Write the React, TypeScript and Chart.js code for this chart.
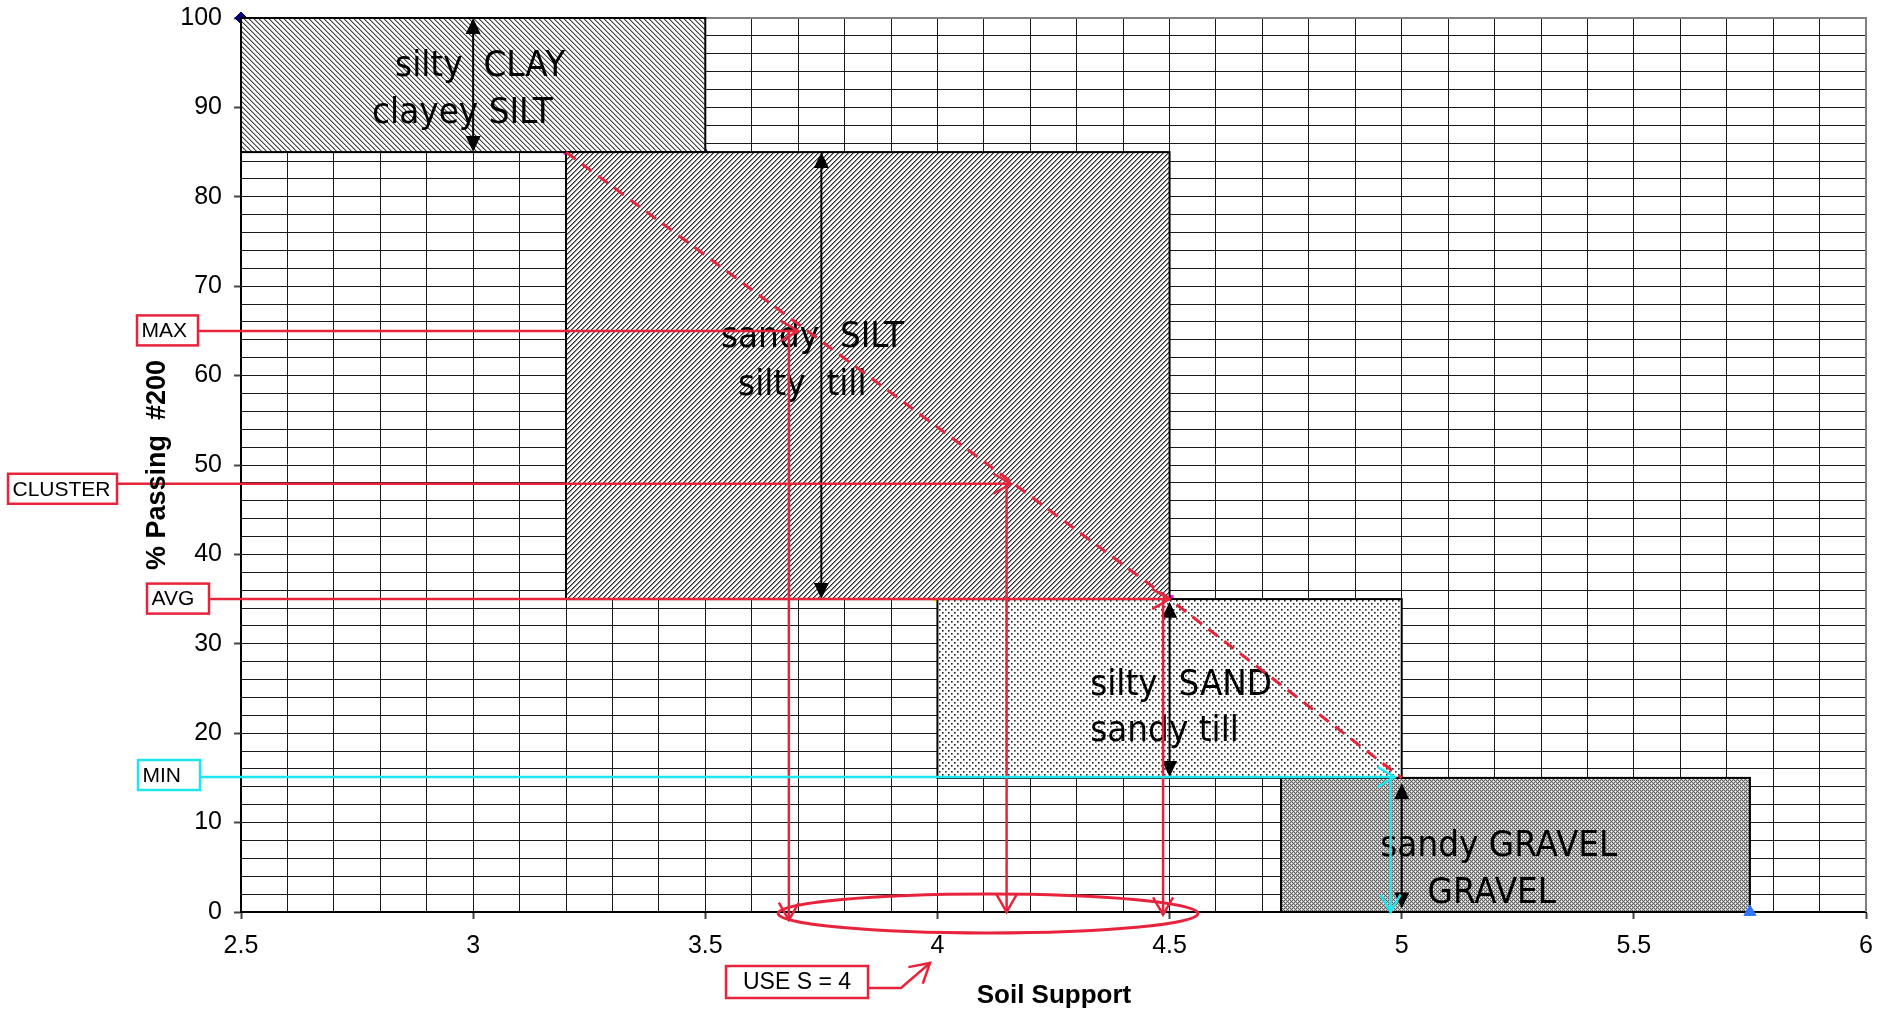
import { useEffect, useRef } from "react";
import { Chart, registerables } from "chart.js";

Chart.register(...registerables);

// ---------------- data ----------------
const xMajorTicks = [2.5, 3, 3.5, 4, 4.5, 5, 5.5, 6];
const yMajorTicks = [0, 10, 20, 30, 40, 50, 60, 70, 80, 90, 100];

const zoneLine1 = ["silty  CLAY", "sandy  SILT", "silty  SAND", "sandy GRAVEL"];
const zoneLine2 = ["clayey SILT", "silty  till", "sandy till", "GRAVEL"];
const zoneXMin = [2.5, 3.2, 4.0, 4.74];
const zoneXMax = [3.5, 4.5, 5.0, 5.75];
const zoneYMin = [85, 35, 15, 0];
const zoneYMax = [100, 85, 35, 15];

const rangeArrowX = [3.0, 3.75, 4.5, 5.0];
const rangeArrowTop = [100, 85, 34.7, 14.4];
const rangeArrowBottom = [85, 35, 15.1, 0.4];

const trendX = [3.2, 4.5, 5.0];
const trendY = [85, 35, 15];

const leaderNames = ["MAX", "CLUSTER", "AVG", "MIN"];
const leaderY = [65, 47.9, 35, 15.1];
const leaderTipX = [3.7, 4.158, 4.5, 4.985];
const leaderDropX = [3.68, 4.149, 4.486, 4.976];
const leaderDropEndY = [-0.9, 0, -0.3, 0];

// ellipse around the candidate soil-support values: centre x, centre y, half width, half height
const clusterEllipse = [4.109, -0.17, 0.452, 2.18];
const recommendation = "USE S = 4";

// corner markers (partly covered by the zones)
const markerX = [2.5, 3.5, 3.2, 4.5, 4.0, 5.0];
const markerY = [100, 85, 85, 35, 35, 15];
// end marker drawn on top
const endMarkerX = [5.75];
const endMarkerY = [0];

const xTitle = "Soil Support";
const yTitle = "% Passing  #200";

// ---------------- styles / layout ----------------
const markerStyle = ["rectRot", "triangle", "rect", "rect", "triangle", "triangle"];
const markerColor = ["#000080", "#000080", "#ff00ff", "#ff00ff", "#ffff00", "#ffff00"];
const markerRadius = [6, 4, 3, 5, 4, 4];

const RED = "#e8243c";
const CYAN = "#1ee6ee";
const AXIS_FONT = '"Liberation Sans", Arial, sans-serif';
const ZONE_FONT = '36px "DejaVu Sans", sans-serif';

const zoneText = {
  align: ["center", "center", "left", "center"] as CanvasTextAlign[],
  x1: [3.015, 3.731, 4.329, 5.209],
  x2: [2.977, 3.709, 4.329, 5.194],
  base1: [93.5, 63.2, 24.3, 6.26],
  base2: [88.25, 57.8, 19.1, 1.04],
};

const leaderBox = {
  left: [137, 8, 147, 138],
  right: [198, 117, 209, 200],
  offset: [-0.5, 5, -0.5, -2],
  color: [RED, RED, RED, CYAN],
};

const isMajor = (list: number[], v: number) => list.some((t) => Math.abs(t - v) < 1e-6);

function makePattern(ctx: CanvasRenderingContext2D, size: number, shade: (x: number, y: number) => number) {
  const c = document.createElement("canvas");
  c.width = size;
  c.height = size;
  const g = c.getContext("2d")!;
  const img = g.createImageData(size, size);
  for (let y = 0; y < size; y++) {
    for (let x = 0; x < size; x++) {
      const v = shade(x, y);
      const i = (y * size + x) * 4;
      img.data[i] = v;
      img.data[i + 1] = v;
      img.data[i + 2] = v;
      img.data[i + 3] = 255;
    }
  }
  g.putImageData(img, 0, 0);
  return ctx.createPattern(c, "repeat")!;
}

function filledHead(ctx: CanvasRenderingContext2D, x1: number, y1: number, x2: number, y2: number, len: number, half: number) {
  const a = Math.atan2(y2 - y1, x2 - x1);
  const bx = x2 - len * Math.cos(a);
  const by = y2 - len * Math.sin(a);
  ctx.beginPath();
  ctx.moveTo(x2, y2);
  ctx.lineTo(bx + half * Math.sin(a), by - half * Math.cos(a));
  ctx.lineTo(bx - half * Math.sin(a), by + half * Math.cos(a));
  ctx.closePath();
  ctx.fill();
}

function openHead(ctx: CanvasRenderingContext2D, x1: number, y1: number, x2: number, y2: number, len: number, ang: number) {
  const a = Math.atan2(y2 - y1, x2 - x1);
  ctx.beginPath();
  ctx.moveTo(x2 - len * Math.cos(a - ang), y2 - len * Math.sin(a - ang));
  ctx.lineTo(x2, y2);
  ctx.lineTo(x2 - len * Math.cos(a + ang), y2 - len * Math.sin(a + ang));
  ctx.stroke();
}

function drawZones(chart: any) {
  const ctx: CanvasRenderingContext2D = chart.ctx;
  const xs = chart.scales.x;
  const ys = chart.scales.y;
  const X = (v: number) => xs.getPixelForValue(v);
  const Y = (v: number) => ys.getPixelForValue(v);
  const patterns = [
    makePattern(ctx, 5, (x, y) => [70, 170, 255, 255, 235][(((x - y) % 5) + 5) % 5]),
    makePattern(ctx, 5, (x, y) => [45, 140, 240, 255, 255][(x + y) % 5]),
    makePattern(ctx, 6, (x, y) => {
      const dx = x % 3, dy = y % 3;
      const onDot = (x < 3 && y < 3) || (x >= 3 && y >= 3);
      if (!onDot) return 255;
      if (dx === 0 && dy === 0) return 34;
      if (dx === 1 && dy === 1) return 170;
      if (dx + dy === 1) return 119;
      return 255;
    }),
    makePattern(ctx, 4, (x, y) => {
      if ((x === 1 && y === 1) || (x === 3 && y === 3)) return 255;
      return (x + y) % 2 === 1 ? 190 : 95;
    }),
  ];
  ctx.save();
  for (let i = 0; i < zoneXMin.length; i++) {
    const l = X(zoneXMin[i]), r = X(zoneXMax[i]);
    const t = Y(zoneYMax[i]), b = Y(zoneYMin[i]);
    ctx.fillStyle = patterns[i];
    ctx.fillRect(l, t, r - l, b - t);
    ctx.strokeStyle = "#000";
    ctx.lineWidth = 2;
    ctx.strokeRect(l, t, r - l, b - t);
  }
  ctx.restore();
}

const overlay = {
  id: "soilOverlay",
  beforeDatasetsDraw(chart: any) {
    const { ctx, chartArea } = chart;
    ctx.save();
    ctx.strokeStyle = "#808080";
    ctx.lineWidth = 2;
    ctx.beginPath();
    ctx.moveTo(chartArea.left, chartArea.top);
    ctx.lineTo(chartArea.right, chartArea.top);
    ctx.lineTo(chartArea.right, chartArea.bottom);
    ctx.stroke();
    ctx.restore();
  },
  beforeDatasetDraw(chart: any, args: any) {
    // dataset 1 (corner markers) is drawn first, then the zones, then dataset 0
    if (args.index === 0) drawZones(chart);
  },
  afterDatasetsDraw(chart: any) {
    const ctx: CanvasRenderingContext2D = chart.ctx;
    const xs = chart.scales.x;
    const ys = chart.scales.y;
    const X = (v: number) => xs.getPixelForValue(v);
    const Y = (v: number) => ys.getPixelForValue(v);

    ctx.save();
    // zone texts
    ctx.fillStyle = "#000";
    ctx.font = ZONE_FONT;
    ctx.textBaseline = "alphabetic";
    const drawZoneText = (txt: string, px: number, py: number, align: CanvasTextAlign) => {
      ctx.save();
      ctx.translate(px, py);
      ctx.scale(0.91, 1);
      ctx.textAlign = align;
      ctx.fillText(txt, 0, 0);
      ctx.restore();
    };
    for (let i = 0; i < zoneLine1.length; i++) {
      drawZoneText(zoneLine1[i], X(zoneText.x1[i]), Y(zoneText.base1[i]), zoneText.align[i]);
      drawZoneText(zoneLine2[i], X(zoneText.x2[i]), Y(zoneText.base2[i]), zoneText.align[i]);
    }

    // black range arrows
    ctx.strokeStyle = "#000";
    ctx.fillStyle = "#000";
    ctx.lineWidth = 2;
    for (let i = 0; i < rangeArrowX.length; i++) {
      const px = X(rangeArrowX[i]);
      const t = Y(rangeArrowTop[i]), b = Y(rangeArrowBottom[i]);
      ctx.beginPath();
      ctx.moveTo(px, t + 10);
      ctx.lineTo(px, b - 10);
      ctx.stroke();
      filledHead(ctx, px, b, px, t, 16, 7.5);
      filledHead(ctx, px, t, px, b, 16, 7.5);
    }

    // dashed trend
    ctx.strokeStyle = RED;
    ctx.lineWidth = 3;
    ctx.setLineDash([12, 8]);
    ctx.beginPath();
    for (let i = 0; i < trendX.length; i++) {
      const px = X(trendX[i]), py = Y(trendY[i]);
      if (i === 0) ctx.moveTo(px, py);
      else ctx.lineTo(px, py);
    }
    ctx.stroke();
    ctx.setLineDash([]);

    // leaders
    ctx.lineWidth = 2.5;
    for (let i = 0; i < leaderNames.length; i++) {
      const col = leaderBox.color[i];
      ctx.strokeStyle = col;
      const ly = Y(leaderY[i]);
      const sx = leaderBox.right[i];
      const tx = X(leaderTipX[i]);
      ctx.beginPath();
      ctx.moveTo(sx, ly);
      ctx.lineTo(tx, ly);
      ctx.stroke();
      openHead(ctx, sx, ly, tx, ly, 20, Math.PI / 6);
      const dx = X(leaderDropX[i]);
      const dy = Y(leaderDropEndY[i]);
      ctx.beginPath();
      ctx.moveTo(dx, ly);
      ctx.lineTo(dx, dy);
      ctx.stroke();
      openHead(ctx, dx, ly, dx, dy, 20, Math.PI / 6);

      // label box
      const bt = ly + leaderBox.offset[i] - 15;
      const bl = leaderBox.left[i];
      const bw = leaderBox.right[i] - bl;
      ctx.fillStyle = "#fff";
      ctx.fillRect(bl, bt, bw, 30);
      ctx.strokeRect(bl, bt, bw, 30);
      ctx.fillStyle = "#000";
      ctx.font = `21px ${AXIS_FONT}`;
      ctx.textAlign = "left";
      ctx.textBaseline = "middle";
      ctx.fillText(leaderNames[i], bl + 4.5, bt + 16);
    }

    // ellipse
    ctx.strokeStyle = RED;
    ctx.lineWidth = 3;
    const ecx = X(clusterEllipse[0]);
    const ecy = Y(clusterEllipse[1]);
    const erx = X(clusterEllipse[0] + clusterEllipse[2]) - ecx;
    const ery = Y(clusterEllipse[1]) - Y(clusterEllipse[1] + clusterEllipse[3]);
    ctx.beginPath();
    ctx.ellipse(ecx, ecy, erx, ery, 0, 0, Math.PI * 2);
    ctx.stroke();

    // recommendation box
    ctx.lineWidth = 2.5;
    ctx.fillStyle = "#fff";
    ctx.fillRect(726, 966, 142, 32);
    ctx.strokeRect(726, 966, 142, 32);
    ctx.fillStyle = "#000";
    ctx.font = `23px ${AXIS_FONT}`;
    ctx.textAlign = "center";
    ctx.textBaseline = "middle";
    ctx.fillText(recommendation, 797, 983);
    ctx.beginPath();
    ctx.moveTo(868, 988);
    ctx.lineTo(901, 988);
    ctx.lineTo(930, 963);
    ctx.stroke();
    openHead(ctx, 901, 988, 930, 963, 22, Math.PI / 6);

    // axis titles
    ctx.fillStyle = "#000";
    ctx.font = `bold 26px ${AXIS_FONT}`;
    ctx.textAlign = "center";
    ctx.textBaseline = "alphabetic";
    ctx.fillText(xTitle, 1054, 1003);
    ctx.save();
    ctx.translate(165, 465);
    ctx.rotate(-Math.PI / 2);
    ctx.font = `bold 27px ${AXIS_FONT}`;
    ctx.fillText(yTitle, 0, 0);
    ctx.restore();

    ctx.restore();
  },
};

export default function App() {
  const ref = useRef<HTMLCanvasElement>(null);

  useEffect(() => {
    document.body.style.margin = "0";
    document.body.style.overflow = "hidden";
    const canvas = ref.current!;
    const tickFont = { family: AXIS_FONT, size: 25 };
    const chart = new Chart(canvas, {
      type: "scatter",
      data: {
        datasets: [
          {
            data: endMarkerX.map((x, i) => ({ x, y: endMarkerY[i] })),
            pointStyle: "triangle",
            pointRadius: 7,
            backgroundColor: "#3377ff",
            borderColor: "#3377ff",
            borderWidth: 1,
            clip: false as any,
            showLine: false,
          },
          {
            data: markerX.map((x, i) => ({ x, y: markerY[i] })),
            pointStyle: markerStyle as any,
            pointRadius: markerRadius,
            backgroundColor: markerColor,
            borderColor: markerColor,
            borderWidth: 1,
            clip: false as any,
            showLine: false,
          },
        ],
      },
      options: {
        responsive: false,
        animation: false,
        devicePixelRatio: 1,
        events: [],
        layout: { padding: { left: 0, right: 20, top: 18, bottom: 0 } },
        plugins: {
          legend: { display: false },
          tooltip: { enabled: false },
          title: { display: false },
        },
        scales: {
          x: {
            type: "linear",
            min: 2.5,
            max: 6,
            afterFit: (s: any) => {
              s.height = 104;
              s.paddingLeft = 0;
              s.paddingRight = 0;
            },
            ticks: {
              stepSize: 0.1,
              autoSkip: false,
              maxRotation: 0,
              minRotation: 0,
              padding: 12,
              color: "#000",
              font: tickFont,
              callback: (v: any) => (isMajor(xMajorTicks, Number(v)) ? String(Math.round(Number(v) * 2) / 2) : ""),
            },
            grid: {
              color: "#1a1a1a",
              lineWidth: 1,
              tickLength: 7,
              tickWidth: 2,
              tickColor: (c: any) => (c.tick && isMajor(xMajorTicks, c.tick.value) ? "#444" : "rgba(0,0,0,0)"),
            },
            border: { color: "#000", width: 2 },
          },
          y: {
            type: "linear",
            min: 0,
            max: 100,
            afterFit: (s: any) => {
              s.width = 241;
              s.paddingTop = 0;
              s.paddingBottom = 0;
            },
            ticks: {
              stepSize: 2,
              autoSkip: false,
              padding: 12,
              color: "#000",
              font: tickFont,
              callback: (v: any) => (isMajor(yMajorTicks, Number(v)) ? String(Math.round(Number(v))) : ""),
            },
            grid: {
              color: "#1a1a1a",
              lineWidth: 1,
              tickLength: 7,
              tickWidth: 2,
              tickColor: (c: any) => (c.tick && isMajor(yMajorTicks, c.tick.value) ? "#444" : "rgba(0,0,0,0)"),
            },
            border: { color: "#000", width: 2 },
          },
        },
      },
      plugins: [overlay],
    });
    return () => chart.destroy();
  }, []);

  return <canvas ref={ref} width={1886} height={1016} style={{ display: "block" }} />;
}
